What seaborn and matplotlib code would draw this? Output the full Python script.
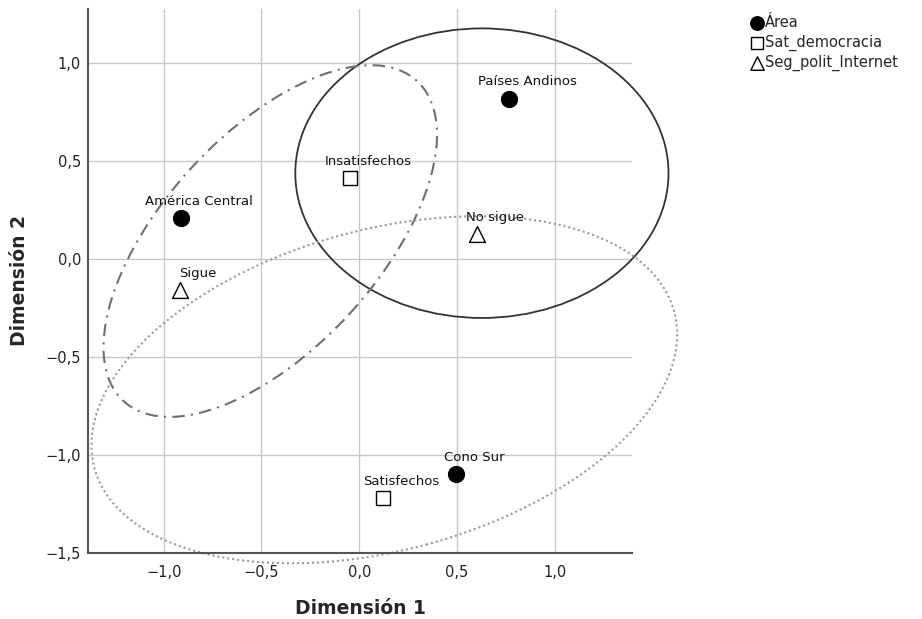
import pandas as pd
import matplotlib
matplotlib.use('Agg')
import matplotlib.pyplot as plt
from matplotlib.patches import Ellipse
import seaborn as sns

# Category points (coordinates)
labels = ['América Central', 'Países Andinos', 'Cono Sur',
          'Insatisfechos', 'Satisfechos', 'Sigue', 'No sigue']
groups = ['Área', 'Área', 'Área',
          'Sat_democracia', 'Sat_democracia',
          'Seg_polit_Internet', 'Seg_polit_Internet']
dim1 = [-0.91, 0.767, 0.496, -0.046, 0.123, -0.916, 0.60]
dim2 = [0.21, 0.82, -1.097, 0.413, -1.22, -0.158, 0.128]

# Confidence ellipses (one per variable)
ell_group = ['Área', 'Seg_polit_Internet', 'Sat_democracia']
ell_cx = [0.627, -0.455, 0.128]
ell_cy = [0.439, 0.092, -0.668]
ell_w = [1.908, 2.22, 3.07]
ell_h = [1.48, 1.10, 1.64]
ell_angle = [0, 47.5, 15.1]

ticks = [-1.5, -1.0, -0.5, 0.0, 0.5, 1.0]
tick_labels = ['−1,5', '−1,0', '−0,5', '0,0', '0,5', '1,0']

df = pd.DataFrame({'label': labels, 'group': groups, 'dim1': dim1, 'dim2': dim2})

sns.set_style('whitegrid', {'grid.color': '#c8c8c8', 'axes.edgecolor': '#555555'})
plt.rcParams['font.family'] = ['DejaVu Sans']

fig = plt.figure(figsize=(9.22, 6.19), dpi=100)
ax = fig.add_axes([0.0954, 0.1074, 0.590, 0.878])

# ellipses (they spill over the plot area in the original)
styles = {
    'Área': dict(color='#333333', lw=1.3, ls='-'),
    'Seg_polit_Internet': dict(color='#707070', lw=1.5, ls=(0, (6, 3, 1, 3))),
    'Sat_democracia': dict(color='#9a9a9a', lw=1.5, ls=(0, (1, 1.4))),
}
for g, cx, cy, w, h, a in zip(ell_group, ell_cx, ell_cy, ell_w, ell_h, ell_angle):
    st = styles[g]
    ax.add_patch(Ellipse((cx, cy), w, h, angle=a, fill=False, edgecolor=st['color'],
                         linewidth=st['lw'], linestyle=st['ls'], zorder=2,
                         clip_on=False))

# points
markers = {'Área': ('o', 'black', 130), 'Sat_democracia': ('s', 'white', 110),
           'Seg_polit_Internet': ('^', 'white', 130)}
for g in ['Área', 'Sat_democracia', 'Seg_polit_Internet']:
    sub = df[df['group'] == g]
    m, fc, s = markers[g]
    sns.scatterplot(data=sub, x='dim1', y='dim2', marker=m, s=s, color=fc,
                    edgecolor='black', linewidth=1.0, label=g, ax=ax, zorder=4)

for _, r in df.iterrows():
    ax.annotate(r['label'], (r['dim1'], r['dim2']), xytext=(13, 12),
                textcoords='offset points', ha='center', va='center',
                fontsize=9.5, color='#111111', zorder=5)

ax.set_xlim(-1.387, 1.394)
ax.set_ylim(-1.5, 1.278)
ax.set_xticks(ticks[1:])
ax.set_xticklabels(tick_labels[1:])
ax.set_yticks(ticks)
ax.set_yticklabels(tick_labels)
ax.tick_params(axis='both', length=0, labelsize=10.5, colors='#222222')
ax.tick_params(axis='x', pad=9)
ax.tick_params(axis='y', pad=5)
ax.grid(True, color='#c8c8c8', linewidth=1.0)
ax.set_axisbelow(True)
for side in ['top', 'right']:
    ax.spines[side].set_visible(False)
for side in ['left', 'bottom']:
    ax.spines[side].set_linewidth(1.5)
    ax.spines[side].set_color('#555555')

ax.set_xlabel('Dimensión 1', fontsize=13.5, fontweight='bold', labelpad=14)
ax.set_ylabel('Dimensión 2', fontsize=13.5, fontweight='bold', labelpad=12)

leg = ax.legend(loc='upper left', bbox_to_anchor=(742 / 922, 1 - 8 / 619),
                bbox_transform=fig.transFigure, frameon=False, fontsize=10.5,
                handletextpad=0.1, labelspacing=0.3, borderpad=0,
                handlelength=1.0, markerscale=0.85)

fig.savefig('out.png', dpi=100)
